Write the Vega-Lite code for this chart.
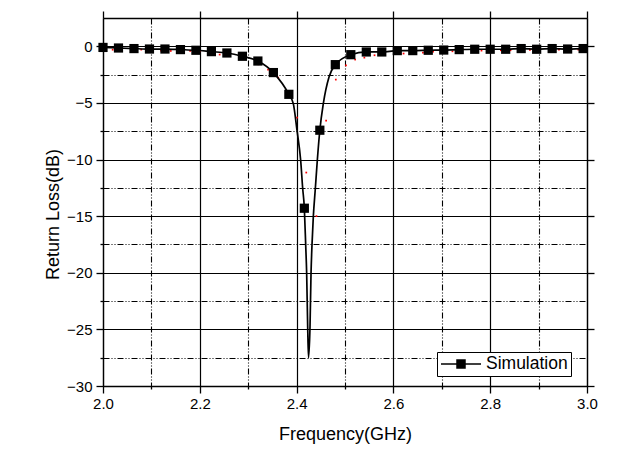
{
  "$schema": "https://vega.github.io/schema/vega-lite/v6.json",
  "width": 484,
  "height": 368,
  "autosize": {"type": "none"},
  "padding": {"left": 103, "top": 18, "right": 38, "bottom": 71},
  "background": "white",
  "config": {
    "view": {"stroke": null},
    "font": "Liberation Sans",
    "axis": {
      "labelFont": "Liberation Sans",
      "titleFont": "Liberation Sans",
      "labelColor": "black",
      "titleColor": "black",
      "domainColor": "black",
      "tickColor": "black",
      "gridColor": "black",
      "gridOpacity": 1,
      "domainWidth": 1.3,
      "tickWidth": 1.3,
      "labelFontSize": 15,
      "labelFlush": false,
      "labelOverlap": false,
      "titleFontSize": 18,
      "titleFontWeight": "normal"
    }
  },
  "datasets": {
    "curve": [
      {"f": 2.000, "db": -0.10}, {"f": 2.032, "db": -0.15}, {"f": 2.064, "db": -0.20}, {"f": 2.096, "db": -0.24},
      {"f": 2.128, "db": -0.24}, {"f": 2.160, "db": -0.29}, {"f": 2.192, "db": -0.35}, {"f": 2.224, "db": -0.47},
      {"f": 2.256, "db": -0.59}, {"f": 2.288, "db": -0.88}, {"f": 2.320, "db": -1.30}, {"f": 2.352, "db": -2.32},
      {"f": 2.384, "db": -4.24}, {"f": 2.3932, "db": -5.06}, {"f": 2.4008, "db": -7.41}, {"f": 2.4084, "db": -10.06},
      {"f": 2.4126, "db": -12.56}, {"f": 2.416, "db": -14.3}, {"f": 2.4188, "db": -17.56}, {"f": 2.4208, "db": -20.06},
      {"f": 2.4229, "db": -24.77}, {"f": 2.4246, "db": -27.5}, {"f": 2.4277, "db": -24.77}, {"f": 2.4298, "db": -20.06},
      {"f": 2.4318, "db": -17.56}, {"f": 2.4345, "db": -15.07}, {"f": 2.4387, "db": -12.56}, {"f": 2.4428, "db": -10.06},
      {"f": 2.448, "db": -7.41}, {"f": 2.4552, "db": -5.06}, {"f": 2.467, "db": -2.71}, {"f": 2.480, "db": -1.62},
      {"f": 2.512, "db": -0.74}, {"f": 2.544, "db": -0.50}, {"f": 2.576, "db": -0.50}, {"f": 2.608, "db": -0.38},
      {"f": 2.640, "db": -0.38}, {"f": 2.672, "db": -0.35}, {"f": 2.704, "db": -0.33}, {"f": 2.736, "db": -0.29},
      {"f": 2.768, "db": -0.26}, {"f": 2.800, "db": -0.26}, {"f": 2.832, "db": -0.26}, {"f": 2.864, "db": -0.20},
      {"f": 2.896, "db": -0.26}, {"f": 2.928, "db": -0.20}, {"f": 2.960, "db": -0.24}, {"f": 2.992, "db": -0.20},
      {"f": 3.000, "db": -0.20}
    ],
    "markers": [
      {"f": 2.000, "db": -0.10}, {"f": 2.032, "db": -0.15}, {"f": 2.064, "db": -0.20}, {"f": 2.096, "db": -0.24},
      {"f": 2.128, "db": -0.24}, {"f": 2.160, "db": -0.29}, {"f": 2.192, "db": -0.35}, {"f": 2.224, "db": -0.47},
      {"f": 2.256, "db": -0.59}, {"f": 2.288, "db": -0.88}, {"f": 2.320, "db": -1.30}, {"f": 2.352, "db": -2.32},
      {"f": 2.384, "db": -4.24}, {"f": 2.416, "db": -14.3}, {"f": 2.448, "db": -7.41}, {"f": 2.480, "db": -1.62},
      {"f": 2.512, "db": -0.74}, {"f": 2.544, "db": -0.50}, {"f": 2.576, "db": -0.50}, {"f": 2.608, "db": -0.38},
      {"f": 2.640, "db": -0.38}, {"f": 2.672, "db": -0.35}, {"f": 2.704, "db": -0.33}, {"f": 2.736, "db": -0.29},
      {"f": 2.768, "db": -0.26}, {"f": 2.800, "db": -0.26}, {"f": 2.832, "db": -0.26}, {"f": 2.864, "db": -0.20},
      {"f": 2.896, "db": -0.26}, {"f": 2.928, "db": -0.20}, {"f": 2.960, "db": -0.24}, {"f": 2.992, "db": -0.20}
    ],
    "red": [
      {"f": 2.000, "db": -0.20}, {"f": 2.020, "db": -0.30}, {"f": 2.039, "db": -0.35}, {"f": 2.059, "db": -0.30},
      {"f": 2.079, "db": -0.29}, {"f": 2.100, "db": -0.35}, {"f": 2.120, "db": -0.38}, {"f": 2.140, "db": -0.41},
      {"f": 2.161, "db": -0.41}, {"f": 2.180, "db": -0.41}, {"f": 2.200, "db": -0.44}, {"f": 2.219, "db": -0.56},
      {"f": 2.241, "db": -0.73}, {"f": 2.262, "db": -0.86}, {"f": 2.290, "db": -1.09}, {"f": 2.321, "db": -1.59},
      {"f": 2.341, "db": -2.06}, {"f": 2.362, "db": -2.76}, {"f": 2.384, "db": -4.03}, {"f": 2.401, "db": -6.29},
      {"f": 2.420, "db": -11.15}, {"f": 2.441, "db": -15.0}, {"f": 2.461, "db": -6.56}, {"f": 2.481, "db": -2.94},
      {"f": 2.502, "db": -1.68}, {"f": 2.521, "db": -1.17}, {"f": 2.540, "db": -1.00}, {"f": 2.561, "db": -0.79},
      {"f": 2.581, "db": -0.73}, {"f": 2.601, "db": -0.64}, {"f": 2.621, "db": -0.64}, {"f": 2.640, "db": -0.56},
      {"f": 2.661, "db": -0.56}, {"f": 2.682, "db": -0.47}, {"f": 2.702, "db": -0.47}, {"f": 2.722, "db": -0.44},
      {"f": 2.742, "db": -0.41}, {"f": 2.762, "db": -0.41}, {"f": 2.782, "db": -0.38}, {"f": 2.802, "db": -0.38},
      {"f": 2.822, "db": -0.35}, {"f": 2.842, "db": -0.35}, {"f": 2.862, "db": -0.35}, {"f": 2.882, "db": -0.32},
      {"f": 2.902, "db": -0.32}, {"f": 2.922, "db": -0.32}, {"f": 2.942, "db": -0.29}, {"f": 2.962, "db": -0.29},
      {"f": 2.982, "db": -0.29}
    ]
  },
  "layer": [
    {
      "data": {"name": "red"},
      "mark": {"type": "square", "color": "#ff0000", "size": 3, "opacity": 1},
      "encoding": {
        "x": {
          "field": "f", "type": "quantitative",
          "scale": {"domain": [2, 3], "nice": false, "zero": false},
          "axis": {"orient": "bottom", "values": [2.1, 2.3, 2.5, 2.7, 2.9], "labels": false, "title": null,
                   "domain": false, "grid": true, "gridDash": [6, 2, 1, 2, 1, 2], "gridWidth": 1.1, "tickSize": 3}
        },
        "y": {
          "field": "db", "type": "quantitative",
          "scale": {"domain": [-30, 2.5], "nice": false, "zero": false},
          "axis": {"orient": "left", "values": [-27.5, -22.5, -17.5, -12.5, -7.5, -2.5], "labels": false, "title": null,
                   "domain": false, "grid": true, "gridDash": [6, 2, 1, 2, 1, 2], "gridWidth": 1.1, "tickSize": 3}
        }
      }
    },
    {
      "data": {"name": "curve"},
      "mark": {"type": "line", "color": "black", "strokeWidth": 1.7, "interpolate": "monotone"},
      "encoding": {
        "x": {
          "field": "f", "type": "quantitative",
          "axis": {"orient": "bottom", "values": [2, 2.2, 2.4, 2.6, 2.8, 3], "format": ".1f", "title": "Frequency(GHz)",
                   "grid": true, "gridWidth": 1.2, "tickSize": 7, "labelPadding": 3,
                   "titleY": 48, "titleBaseline": "middle"}
        },
        "y": {
          "field": "db", "type": "quantitative",
          "axis": {"orient": "left", "values": [-30, -25, -20, -15, -10, -5, 0], "title": "Return Loss(dB)",
                   "grid": true, "gridWidth": 1.2, "tickSize": 7, "labelPadding": 4,
                   "titleX": -50, "titleY": 196, "titleBaseline": "middle", "titleAlign": "center", "titleAngle": 270}
        }
      }
    },
    {
      "data": {"name": "markers"},
      "mark": {"type": "point", "shape": "square", "filled": true, "size": 85, "opacity": 1},
      "encoding": {
        "x": {
          "field": "f", "type": "quantitative",
          "axis": {"orient": "top", "values": [2, 2.2, 2.4, 2.6, 2.8, 3], "labels": false, "title": null,
                   "grid": false, "tickSize": 7}
        },
        "y": {
          "field": "db", "type": "quantitative",
          "axis": {"orient": "right", "values": [-30, -25, -20, -15, -10, -5, 0], "labels": false, "title": null,
                   "grid": false, "tickSize": 7}
        },
        "color": {
          "datum": "Simulation",
          "scale": {"range": ["black"]},
          "legend": {
            "orient": "none", "legendX": 334, "legendY": 334, "title": null,
            "symbolType": "M-2.5,0H2.5M-0.5,-0.5H0.5V0.5H-0.5Z",
            "symbolSize": 256, "symbolStrokeWidth": 1.5, "symbolStrokeColor": "black", "symbolFillColor": "black",
            "symbolOffset": 12, "labelOffset": 16,
            "labelFont": "Liberation Sans", "labelFontSize": 17.5, "labelColor": "black",
            "strokeColor": "black", "fillColor": "white", "padding": 3
          }
        }
      }
    }
  ],
  "resolve": {"axis": {"x": "independent", "y": "independent"}}
}
